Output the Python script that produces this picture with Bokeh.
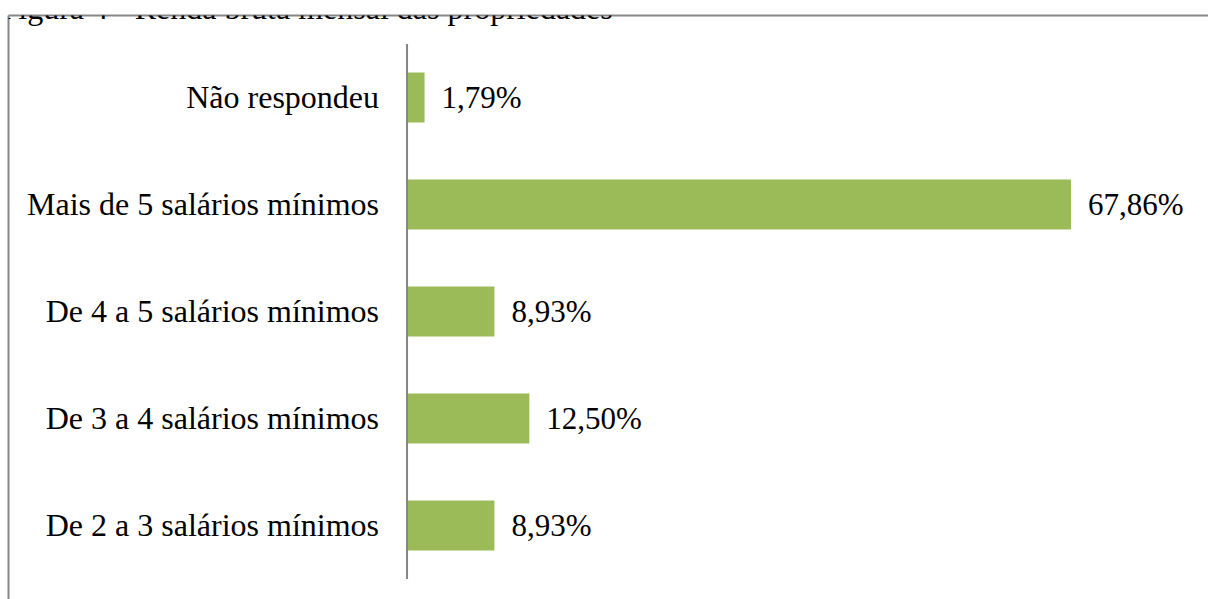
from bokeh.plotting import figure
from bokeh.models import Range1d, LinearAxis, FixedTicker, Label, ColumnDataSource
from bokeh.embed import file_html
from bokeh.resources import INLINE
from bokeh.core.properties import value

title = "Figura 4 - Renda bruta mensal das propriedades"
categories = [
    "De 2 a 3 salários mínimos",
    "De 3 a 4 salários mínimos",
    "De 4 a 5 salários mínimos",
    "Mais de 5 salários mínimos",
    "Não respondeu",
]
values = [8.93, 12.50, 8.93, 67.86, 1.79]
value_labels = ["8,93%", "12,50%", "8,93%", "67,86%", "1,79%"]

FONT = value("Liberation Serif")
pos = list(range(len(categories)))
src = ColumnDataSource(dict(y=pos, v=values, cat=categories, lab=value_labels,
                            zero=[0] * len(pos)))

xr = Range1d(-40.73, 81.91)
yr = Range1d(-0.692, 4.766)

p = figure(width=1208, height=599, output_backend="svg", toolbar_location=None,
           x_range=xr, y_range=yr,
           min_border_left=8, min_border_top=15, min_border_right=0, min_border_bottom=0,
           x_axis_location=None, y_axis_location=None)
p.outline_line_color = None
p.background_fill_color = "white"
p.border_fill_color = "white"
p.xgrid.visible = False
p.ygrid.visible = False

p.add_layout(Label(x=xr.start, y=yr.end, x_offset=-8, y_offset=7.5, text=title,
                   text_font="Liberation Serif", text_font_size="32px", text_color="black",
                   text_align="left", text_baseline="alphabetic"))

for side in ("left", "above"):
    ax = LinearAxis(ticker=FixedTicker(ticks=[]), axis_line_color="#878787", axis_line_width=2,
                    major_tick_line_color=None, minor_tick_line_color=None,
                    major_tick_out=0, minor_tick_out=0, major_tick_in=0, minor_tick_in=0,
                    major_label_standoff=0, major_label_text_font_size="0px")
    p.add_layout(ax, side)

p.hbar(y="y", left="zero", right="v", height=0.467, fill_color="#9bbb59",
       line_color=None, source=src)
p.segment(x0=0, y0=pos[0] - 0.5, x1=0, y1=pos[-1] + 0.5, line_color="#868686", line_width=2)

p.text(x="zero", y="y", text="cat", x_offset=-28, text_align="right", text_baseline="middle",
       text_font=FONT, text_font_size="32px", text_color="black", source=src)
p.text(x="v", y="y", text="lab", x_offset=17, text_align="left", text_baseline="middle",
       text_font=FONT, text_font_size="31px", text_color="black", source=src)

open("out.html", "w").write(file_html(p, INLINE))
